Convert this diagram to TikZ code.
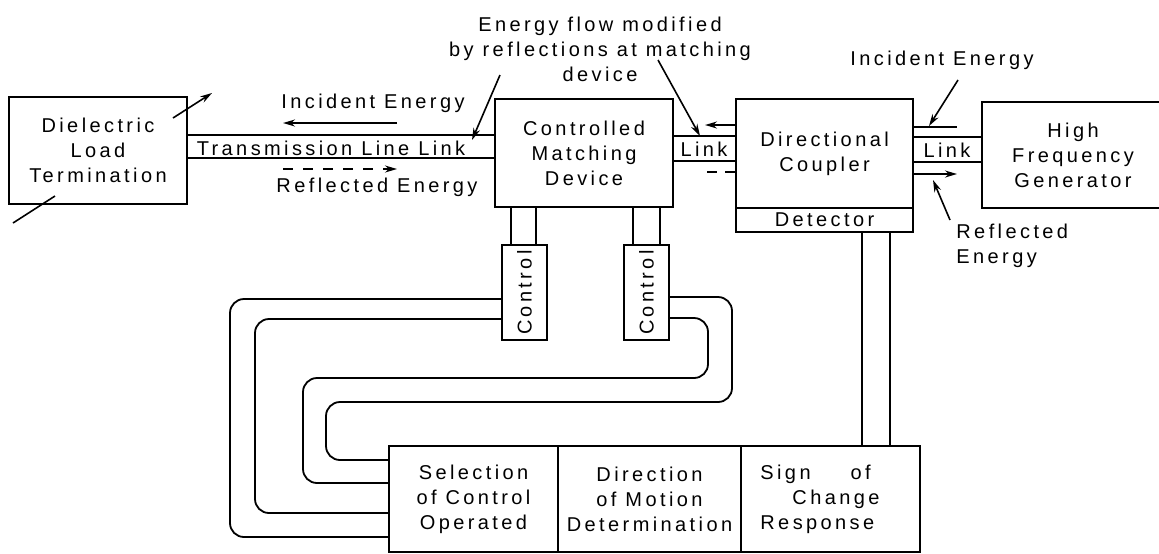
\documentclass[tikz,border=0pt]{standalone}
\usepackage{fontspec}
\setmainfont{Liberation Sans}[LetterSpace=17]
\usetikzlibrary{arrows.meta}
\newcommand{\dgfont}{\fontsize{10}{12.5}\selectfont}
\tikzset{
  blk/.style={draw, line width=0.9pt, inner sep=0pt, align=center, font=\dgfont},
  lbl/.style={font=\dgfont, align=center, inner sep=0pt},
  wire/.style={line width=0.9pt},
  pipe/.style={line width=0.9pt, rounded corners=7pt},
  ptr/.style={line width=0.8pt, -{Stealth[length=6pt,width=3.5pt]}},
  flowarr/.style={line width=0.8pt, -{Stealth[length=6pt,width=3.5pt]}},
}

\begin{document}
\begin{tikzpicture}[x=0.5pt, y=-0.5pt]
  \useasboundingbox (0,0) rectangle (1159,553);
  % blocks
  \node[blk, minimum width=89pt, minimum height=53.5pt] (load) at (98,150.5)
    {Dielectric\\Load\\Termination};
  \node[blk, minimum width=89pt, minimum height=54pt] (cmd) at (584,153)
    {Controlled\\Matching\\Device};
  \node[blk, minimum width=88.5pt, minimum height=54.5pt] (coup) at (824.5,153.5)
    {Directional\\Coupler};
  \node[blk, minimum width=88.5pt, minimum height=12pt] (det) at (824.5,220) {Detector};
  \node[blk, minimum width=91pt, minimum height=53pt] (hfg) at (1073,155)
    {High\\Frequency\\Generator};
  \node[blk, minimum width=22.5pt, minimum height=47.5pt] (ctrlA) at (524.5,292.5) {};
  \node[blk, minimum width=22.5pt, minimum height=47.5pt] (ctrlB) at (646.5,292.5) {};
  \node[lbl, rotate=90] (ctrlAtxt) at (ctrlA.center) {Control};
  \node[lbl, rotate=90] (ctrlBtxt) at (ctrlB.center) {Control};
  \node[blk, minimum width=84.5pt, minimum height=53pt] (sel) at (473.5,499)
    {Selection\\of Control\\Operated};
  \node[blk, minimum width=91.5pt, minimum height=53pt] (dir) at (649.5,499)
    {Direction\\of Motion\\Determination};
  \node[blk, minimum width=89.5pt, minimum height=53pt] (sign) at (830.5,499) {};
  \node[lbl, align=left, anchor=west] (signtxt) at (760,499)
    {Sign\hspace{2em}of\\\hspace{1.6em}Change\\Response};

  % transmission line link
  \draw[wire] (load.east |- 0,135) -- (cmd.west |- 0,135);
  \draw[wire] (load.east |- 0,158) -- (cmd.west |- 0,158);
  \node[lbl] (tll) at (331,148) {Transmission Line Link};
  \node[lbl] (incL) at (373,103) {Incident Energy};
  \node[lbl] (refL) at (377,187) {Reflected Energy};
  \coordinate (incA) at (397,123);
  \coordinate (incB) at (283,123);
  \coordinate (refA) at (283,169);
  \coordinate (refB) at (397,169);
  \draw[flowarr] (incA) -- (incB);
  \draw[flowarr, dash pattern=on 5pt off 5pt] (refA) -- (refB);
  \coordinate (ldin) at (173,118);
  \coordinate (ldout) at (212,93);
  \coordinate (ldlow) at (13,223);
  \coordinate (ldlowb) at (55,196);
  \draw[ptr] (ldin) -- (ldout);
  \draw[wire, line width=0.8pt] (ldlow) -- (ldlowb);

  % link matching device - coupler
  \draw[wire] (cmd.east |- 0,136) -- (coup.west |- 0,136);
  \draw[wire] (cmd.east |- 0,161) -- (coup.west |- 0,161);
  \node[lbl] (lnk1) at (704,149) {Link};
  \coordinate (inc2) at (705,125);
  \coordinate (ref2) at (707,172);
  \draw[flowarr] (coup.west |- 0,125) -- (inc2);
  \draw[wire, line width=0.8pt, dash pattern=on 5pt off 4pt] (ref2) -- (coup.west |- 0,172);

  % link coupler - generator
  \draw[wire] (coup.east |- 0,137) -- (hfg.west |- 0,137);
  \draw[wire] (coup.east |- 0,162) -- (hfg.west |- 0,162);
  \node[lbl] (lnk2) at (947,150) {Link};
  \coordinate (inc3) at (957,127);
  \coordinate (ref3) at (957,174);
  \draw[wire, line width=0.8pt] (coup.east |- 0,127) -- (inc3);
  \draw[flowarr] (coup.east |- 0,174) -- (ref3);

  % annotations
  \node[lbl] (flowL) at (600,49)
    {Energy flow modified\\by reflections at matching\\device};
  \coordinate (fa) at (500,75);
  \coordinate (fat) at (472,140);
  \coordinate (fb) at (658,60);
  \coordinate (fbt) at (700,136);
  \draw[ptr] (fa) -- (fat);
  \draw[ptr] (fb) -- (fbt);
  \node[lbl] (incR) at (942,60) {Incident Energy};
  \coordinate (ia) at (958,80);
  \coordinate (iat) at (929,126);
  \draw[ptr] (ia) -- (iat);
  \node[lbl, align=left, anchor=north west] (refR) at (956,224)
    {Reflected\\Energy};
  \coordinate (ra) at (950,220);
  \coordinate (rat) at (933,180);
  \draw[ptr] (ra) -- (rat);

  % controls
  \draw[wire] (cmd.south -| 511,0) -- (ctrlA.north -| 511,0);
  \draw[wire] (cmd.south -| 536,0) -- (ctrlA.north -| 536,0);
  \draw[wire] (cmd.south -| 633,0) -- (ctrlB.north -| 633,0);
  \draw[wire] (cmd.south -| 660,0) -- (ctrlB.north -| 660,0);
  \draw[wire] (det.south -| 862,0) -- (sign.north -| 862,0);
  \draw[wire] (det.south -| 890,0) -- (sign.north -| 890,0);

  % control pipes to selection
  \draw[pipe] (ctrlA.west |- 0,299) -- (230,299) -- (230,537) -- (sel.west |- 0,537);
  \draw[pipe] (ctrlA.west |- 0,319) -- (255,319) -- (255,513) -- (sel.west |- 0,513);
  \draw[pipe] (ctrlB.east |- 0,297) -- (732,297) -- (732,402) -- (326,402)
    -- (326,460) -- (sel.west |- 0,460);
  \draw[pipe] (ctrlB.east |- 0,318) -- (708,318) -- (708,378) -- (303,378)
    -- (303,483) -- (sel.west |- 0,483);
\end{tikzpicture}
\end{document}
